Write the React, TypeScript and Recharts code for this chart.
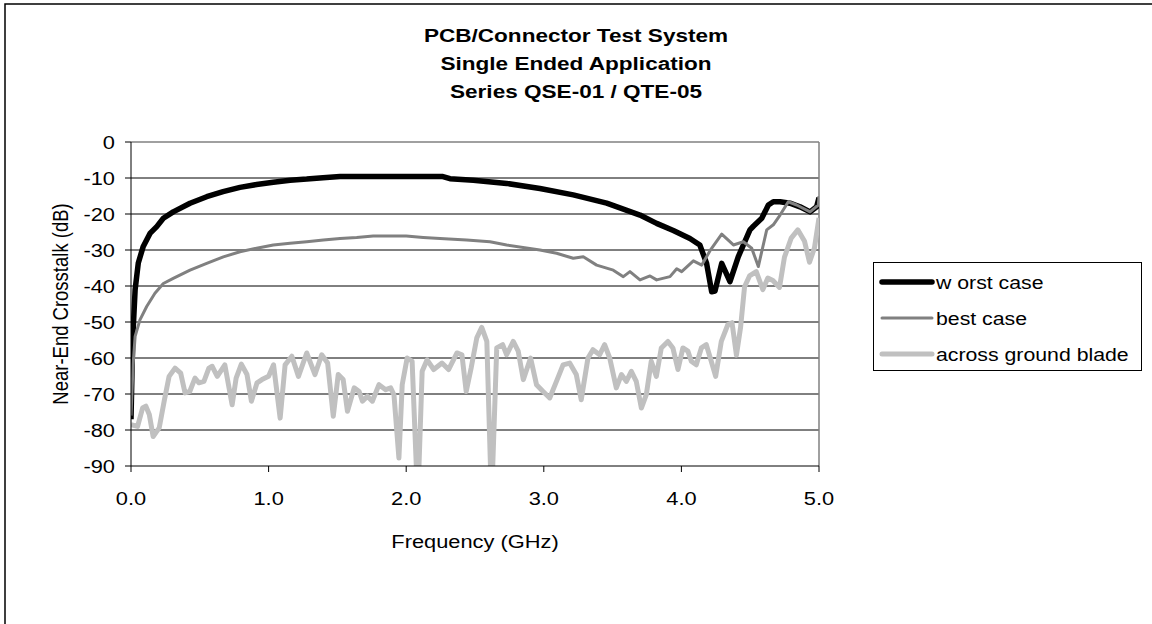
import { CartesianGrid, Line, LineChart, ReferenceLine, XAxis, YAxis } from 'recharts';

// frequencies in GHz, crosstalk in dB
const worstFreq = [
  0, 0.012, 0.03, 0.053, 0.089, 0.138, 0.187, 0.235, 0.307, 0.429, 0.55, 0.669, 0.792, 0.913,
  1.034, 1.156, 1.277, 1.395, 1.519, 1.8, 2.1, 2.267, 2.318, 2.488, 2.73, 2.972, 3.214, 3.457,
  3.699, 3.82, 3.941, 4.062, 4.134, 4.183, 4.22, 4.244, 4.293, 4.353, 4.413, 4.498, 4.523,
  4.584, 4.632, 4.668, 4.717, 4.789, 4.862, 4.935, 4.983, 5.0,
];
const worstDb = [
  -77, -55, -41, -33.6, -29, -25.4, -23.5, -21.2, -19.4, -17, -15.2, -13.8, -12.6, -11.8,
  -11.2, -10.6, -10.3, -9.9, -9.6, -9.6, -9.6, -9.6, -10.2, -10.6, -11.5, -12.9, -14.7, -17,
  -20.3, -22.6, -24.6, -26.8, -28.6, -33.7, -41.6, -41.4, -33.7, -38.8, -31.9, -24.4, -23.4,
  -21.2, -17.5, -16.6, -16.6, -17, -18, -19.4, -18, -15.5,
];

const bestFreq = [
  0, 0.015, 0.03, 0.065, 0.114, 0.174, 0.235, 0.307, 0.429, 0.55, 0.671, 0.792, 0.913, 1.034,
  1.156, 1.277, 1.398, 1.519, 1.64, 1.76, 1.88, 2.0, 2.124, 2.246, 2.439, 2.609, 2.73, 2.972,
  3.093, 3.214, 3.287, 3.384, 3.505, 3.578, 3.626, 3.699, 3.772, 3.82, 3.917, 3.966, 4.002,
  4.087, 4.148, 4.208, 4.293, 4.378, 4.45, 4.511, 4.559, 4.62, 4.668, 4.717, 4.777, 4.838,
  4.935, 4.995, 5.0,
];
const bestDb = [
  -76, -62, -54, -49.4, -45.7, -42, -39.3, -37.9, -35.6, -33.7, -31.9, -30.5, -29.5, -28.6,
  -28.1, -27.7, -27.2, -26.8, -26.5, -26.1, -26.1, -26.1, -26.5, -26.8, -27.2, -27.7, -28.6,
  -30, -30.9, -32.3, -31.9, -34.2, -35.6, -37.4, -36, -38.3, -37.2, -38.3, -37.4, -35.2, -36,
  -33, -34.2, -30.2, -25.6, -28.6, -27.7, -29.5, -34.6, -24.4, -23, -20.3, -16.6, -17.5,
  -19.4, -17.5, -15,
];

const bladeFreq = [
  0, 0.048, 0.084, 0.108, 0.133, 0.161, 0.205, 0.241, 0.277, 0.32, 0.361, 0.393, 0.427, 0.465,
  0.494, 0.53, 0.566, 0.59, 0.627, 0.682, 0.735, 0.764, 0.802, 0.843, 0.875, 0.916, 0.952, 1.0,
  1.036, 1.084, 1.12, 1.169, 1.217, 1.277, 1.337, 1.386, 1.429, 1.47, 1.506, 1.542, 1.573,
  1.622, 1.658, 1.682, 1.718, 1.754, 1.802, 1.851, 1.887, 1.911, 1.947, 1.971, 2.007, 2.043,
  2.084, 2.116, 2.152, 2.2, 2.26, 2.308, 2.369, 2.405, 2.436, 2.472, 2.513, 2.549, 2.586,
  2.62, 2.658, 2.701, 2.73, 2.778, 2.814, 2.851, 2.904, 2.947, 2.995, 3.043, 3.092, 3.14,
  3.188, 3.236, 3.272, 3.321, 3.357, 3.406, 3.442, 3.479, 3.527, 3.564, 3.6, 3.636, 3.672,
  3.709, 3.745, 3.781, 3.818, 3.854, 3.902, 3.938, 3.975, 4.011, 4.047, 4.072, 4.108, 4.145,
  4.181, 4.217, 4.249, 4.29, 4.338, 4.368, 4.4, 4.43, 4.459, 4.495, 4.544, 4.592, 4.628,
  4.665, 4.713, 4.749, 4.798, 4.846, 4.895, 4.931, 4.967, 5.0,
];
const bladeDb = [
  -78.5, -79, -73.9, -73.4, -75.7, -81.8, -79.4, -72, -65.1, -62.8, -64.2, -69.7, -69.3, -65.6,
  -66.9, -66.5, -62.8, -62.3, -65.1, -61.9, -73, -65.6, -61.7, -64.6, -72, -66.9, -66, -65.1,
  -61.9, -76.7, -61.9, -59.5, -65.1, -58.6, -64.6, -59.1, -61.4, -76.2, -64.6, -66, -74.8,
  -68.3, -69.3, -72, -70.6, -72, -67.4, -68.8, -68.3, -70.2, -87.8, -67.4, -60, -60.9,
  -100, -63.7, -60.5, -63.2, -61.4, -63.2, -58.6, -59.1, -69.3, -62.8, -54.4, -51.5, -55.4,
  -100, -57.2, -56.3, -59.1, -55.4, -58.1, -66, -60, -67.4, -69.3, -71.1, -66.5, -61.9,
  -61.4, -64.6, -71.6, -60, -57.7, -59.1, -56.3, -60, -68.3, -64.6, -66.5, -63.7, -66.5,
  -73.9, -70.2, -60.9, -65.1, -57.2, -55.4, -57.2, -63.2, -57.2, -58.1, -60.9, -61.9, -57.2,
  -56.3, -60.9, -65.1, -55.4, -50.7, -50.2, -59.2, -51.5, -40.2, -37.2, -36, -41, -37.8,
  -38.5, -40.4, -32, -26.7, -24.4, -27.6, -33.4, -29.4, -21.1,
];

const xTicks = [0, 1, 2, 3, 4, 5];
const yTicks = [0, -10, -20, -30, -40, -50, -60, -70, -80, -90];
const gridValues = [-10, -20, -30, -40, -50, -60, -70, -80];
const titleLines = ['PCB/Connector Test System', 'Single Ended Application', 'Series QSE-01 / QTE-05'];

const series = [
  { name: 'w orst case', freq: worstFreq, db: worstDb, color: '#000000', width: 5.5 },
  { name: 'best case', freq: bestFreq, db: bestDb, color: '#808080', width: 3 },
  { name: 'across ground blade', freq: bladeFreq, db: bladeDb, color: '#c0c0c0', width: 5 },
];

const FONT = '"Liberation Sans", Arial, sans-serif';
const SX = 1.18;

function XTick({ x, y, payload }: any) {
  return (
    <text
      transform={`translate(${x},${y + 31}) scale(${SX},1)`}
      textAnchor="middle"
      fontFamily={FONT}
      fontSize={18.5}
      fill="#000"
    >
      {Number(payload.value).toFixed(1)}
    </text>
  );
}

function YTick({ x, y, payload }: any) {
  return (
    <text
      transform={`translate(${x},${y + 6.6}) scale(${SX},1)`}
      textAnchor="end"
      fontFamily={FONT}
      fontSize={18.5}
      fill="#000"
    >
      {payload.value}
    </text>
  );
}

const legendTop = 262;
const legendRows = [282, 318, 354];

export default function App() {
  return (
    <div style={{ position: 'absolute', left: 0, top: 0, width: 1152, height: 624, background: '#fff' }}>
      <LineChart
        width={1152}
        height={624}
        margin={{ top: 142, right: 333, bottom: 128, left: 71 }}
      >
        <CartesianGrid horizontal vertical={false} horizontalValues={gridValues} stroke="#000" strokeWidth={1} />
        <ReferenceLine y={0} stroke="#808080" strokeWidth={1.5} />
        <ReferenceLine x={5} stroke="#808080" strokeWidth={1.5} />
        <XAxis
          type="number"
          dataKey="f"
          domain={[0, 5]}
          ticks={xTicks}
          height={30}
          tickSize={6}
          stroke="#000"
          tick={<XTick />}
          allowDataOverflow
        />
        <YAxis
          type="number"
          dataKey="v"
          domain={[-90, 0]}
          ticks={yTicks}
          width={60}
          tickSize={6}
          tickMargin={10}
          stroke="#000"
          tick={<YTick />}
          allowDataOverflow
        />
        {series.map((s) => (
          <Line
            key={s.name}
            data={s.freq.map((f, i) => ({ f, v: s.db[i] }))}
            dataKey="v"
            name={s.name}
            stroke={s.color}
            strokeWidth={s.width}
            strokeLinejoin="round"
            dot={false}
            type="linear"
            isAnimationActive={false}
          />
        ))}
      </LineChart>
      <svg
        width={1152}
        height={624}
        style={{ position: 'absolute', left: 0, top: 0, pointerEvents: 'none' }}
        fontFamily={FONT}
      >
        <path d="M5,624 V4 H1152" fill="none" stroke="#000" strokeWidth={1.5} />
        {titleLines.map((t, i) => (
          <text
            key={t}
            transform={`translate(576,${41.6 + i * 28.3}) scale(1.22,1)`}
            textAnchor="middle"
            fontWeight="bold"
            fontSize={18.5}
            fill="#000"
          >
            {t}
          </text>
        ))}
        <text
          transform="translate(60,304) rotate(-90) scale(1,1.18)"
          textAnchor="middle"
          dy="0.35em"
          fontSize={18.5}
          fill="#000"
        >
          Near-End Crosstalk (dB)
        </text>
        <text transform={`translate(475,548) scale(${SX},1)`} textAnchor="middle" fontSize={18.5} fill="#000">
          Frequency (GHz)
        </text>
        <rect x={873.5} y={legendTop + 0.5} width={268} height={108} fill="#fff" stroke="#000" strokeWidth={1} />
        {series.map((s, i) => (
          <g key={s.name}>
            <line x1={882} x2={932} y1={legendRows[i]} y2={legendRows[i]} stroke={s.color} strokeWidth={s.width} strokeLinecap="round" />
            <text transform={`translate(936,${legendRows[i] + 6.6}) scale(1.15,1)`} fontSize={18.5} fill="#000">
              {s.name}
            </text>
          </g>
        ))}
      </svg>
    </div>
  );
}
